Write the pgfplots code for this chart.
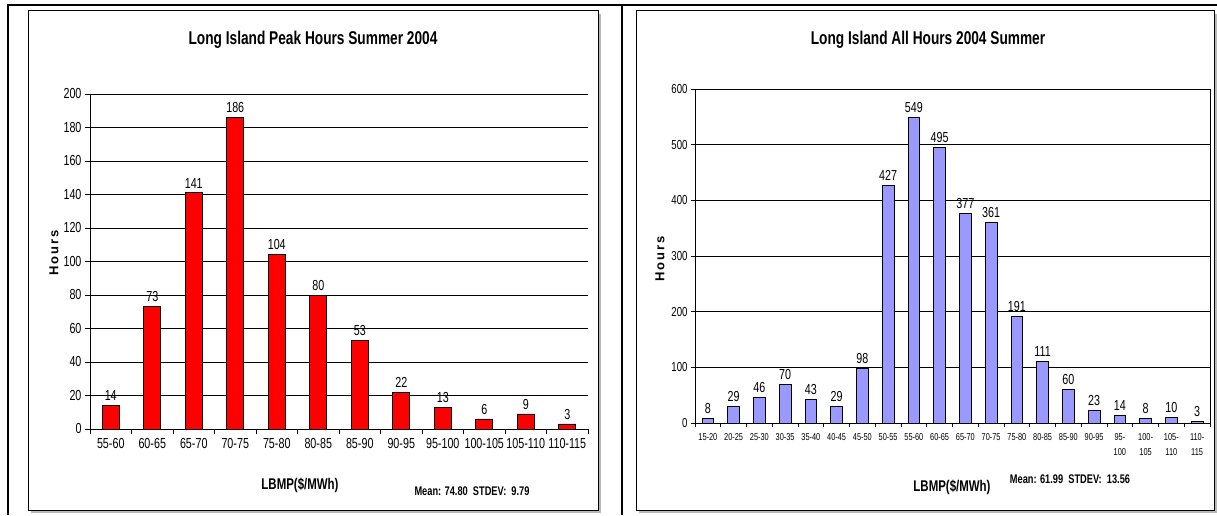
\documentclass[border=0pt]{standalone}
\usepackage{fontspec}
\setmainfont{Liberation Sans}[FakeStretch=0.74]
\newfontfamily\rotfont{Liberation Sans}
\usepackage{pgfplots}
\pgfplotsset{compat=1.18}
\definecolor{redbar}{HTML}{FF0000}
\definecolor{bluebar}{HTML}{9999FF}
\pgfplotstableread{
x y
0 14
1 73
2 141
3 186
4 104
5 80
6 53
7 22
8 13
9 6
10 9
11 3
}\peak
\pgfplotstableread{
x y
0 8
1 29
2 46
3 70
4 43
5 29
6 98
7 427
8 549
9 495
10 377
11 361
12 191
13 111
14 60
15 23
16 14
17 8
18 10
19 3
}\allhours
\begin{document}
\begin{tikzpicture}[x=1pt,y=1pt]
\useasboundingbox (0,0) rectangle (1217,515);
% chart boxes
\fill[gray!55] (31,2) rectangle (601,501);
\filldraw[fill=white,draw=black,line width=1pt] (28,5) rectangle (598,504);
\fill[gray!55] (639,2) rectangle (1217,501);
\filldraw[fill=white,draw=black,line width=1pt] (636,5) rectangle (1214,504);
% outer table lines
\draw[line width=2.5pt] (7,510) -- (1217,510);
\draw[line width=2.5pt] (8,0) -- (8,511.2);
\draw[line width=2.5pt] (622,0) -- (622,511.2);

\begin{axis}[
  at={(90pt,86pt)}, anchor=south west, scale only axis,
  width=498pt, height=335pt,
  ybar, bar width=0.41, bar shift=0pt,
  xmin=-0.5, xmax=11.5, ymin=0, ymax=200,
  ytick={0,20,...,200},
  xtick={0,...,11},
  xticklabels={55-60,60-65,65-70,70-75,75-80,80-85,85-90,90-95,95-100,100-105,105-110,110-115},
  minor xtick={-0.5,0.5,...,11.5},
  axis x line*=bottom, axis y line*=left,
  axis line style={black, line width=1pt},
  ymajorgrids, grid style={black, line width=0.9pt},
  tick align=outside,
  major x tick style={draw=none},
  minor tick length=5pt, major tick length=5pt,
  tick style={black, line width=0.8pt},
  /pgf/number format/assume math mode=true,
  ticklabel style={font=\fontsize{14.5}{16}\selectfont},
  xticklabel style={yshift=-1pt},
  nodes near coords,
  every node near coord/.append style={font=\fontsize{14.5}{14.5}\selectfont, black, yshift=1pt},
  clip=false,
]
\addplot[fill=redbar, draw=black, line width=0.8pt] table[x=x,y=y] {\peak};
\end{axis}

\begin{axis}[
  at={(695pt,92pt)}, anchor=south west, scale only axis,
  width=515pt, height=334pt,
  ybar, bar width=0.45, bar shift=0pt,
  xmin=-0.5, xmax=19.5, ymin=0, ymax=600,
  ytick={0,100,...,600},
  xtick={0,...,19},
  xticklabels={15-20,20-25,25-30,30-35,35-40,40-45,45-50,50-55,55-60,60-65,65-70,70-75,75-80,80-85,85-90,90-95,{95-\\100},{100-\\105},{105-\\110},{110-\\115}},
  minor xtick={-0.5,0.5,...,19.5},
  tick pos=left,
  axis line style={black, line width=1pt},
  ymajorgrids, grid style={black, line width=0.7pt},
  tick align=outside,
  major x tick style={draw=none},
  minor tick length=4pt, major tick length=4pt,
  tick style={black, line width=0.8pt},
  /pgf/number format/assume math mode=true,
  yticklabel style={font=\fontsize{13}{14}\selectfont},
  xticklabel style={align=center, font=\fontsize{10}{15}\selectfont, yshift=-3pt},
  nodes near coords,
  every node near coord/.append style={font=\fontsize{14.5}{14.5}\selectfont, black, yshift=1pt},
  clip=false,
]
\addplot[fill=bluebar, draw=black, line width=0.8pt] table[x=x,y=y] {\allhours};
\end{axis}

% titles and labels
\node[font=\bfseries\fontsize{18.5}{18.5}\selectfont] at (313,475) {Long Island Peak Hours Summer 2004};
\node[font=\bfseries\fontsize{18.5}{18.5}\selectfont] at (928,475) {Long Island All Hours 2004 Summer};
\node[rotate=90,font=\rotfont\bfseries\fontsize{13}{13}\selectfont] at (54,262) {H\hspace{2pt}o\hspace{2pt}u\hspace{2pt}r\hspace{2pt}s};
\node[rotate=90,font=\rotfont\bfseries\fontsize{13}{13}\selectfont] at (660,256) {H\hspace{2pt}o\hspace{2pt}u\hspace{2pt}r\hspace{2pt}s};
\node[font=\bfseries\fontsize{15.5}{15.5}\selectfont] at (300,30) {LBMP(\$/MWh)};
\node[font=\bfseries\fontsize{12.5}{12.5}\selectfont] at (472,24) {Mean: 74.80\ \ STDEV:\ \ 9.79};
\node[font=\bfseries\fontsize{15.5}{15.5}\selectfont] at (952,28) {LBMP(\$/MWh)};
\node[font=\bfseries\fontsize{12.5}{12.5}\selectfont] at (1070,36) {Mean: 61.99\ \ STDEV:\ \ 13.56};
\end{tikzpicture}
\end{document}
